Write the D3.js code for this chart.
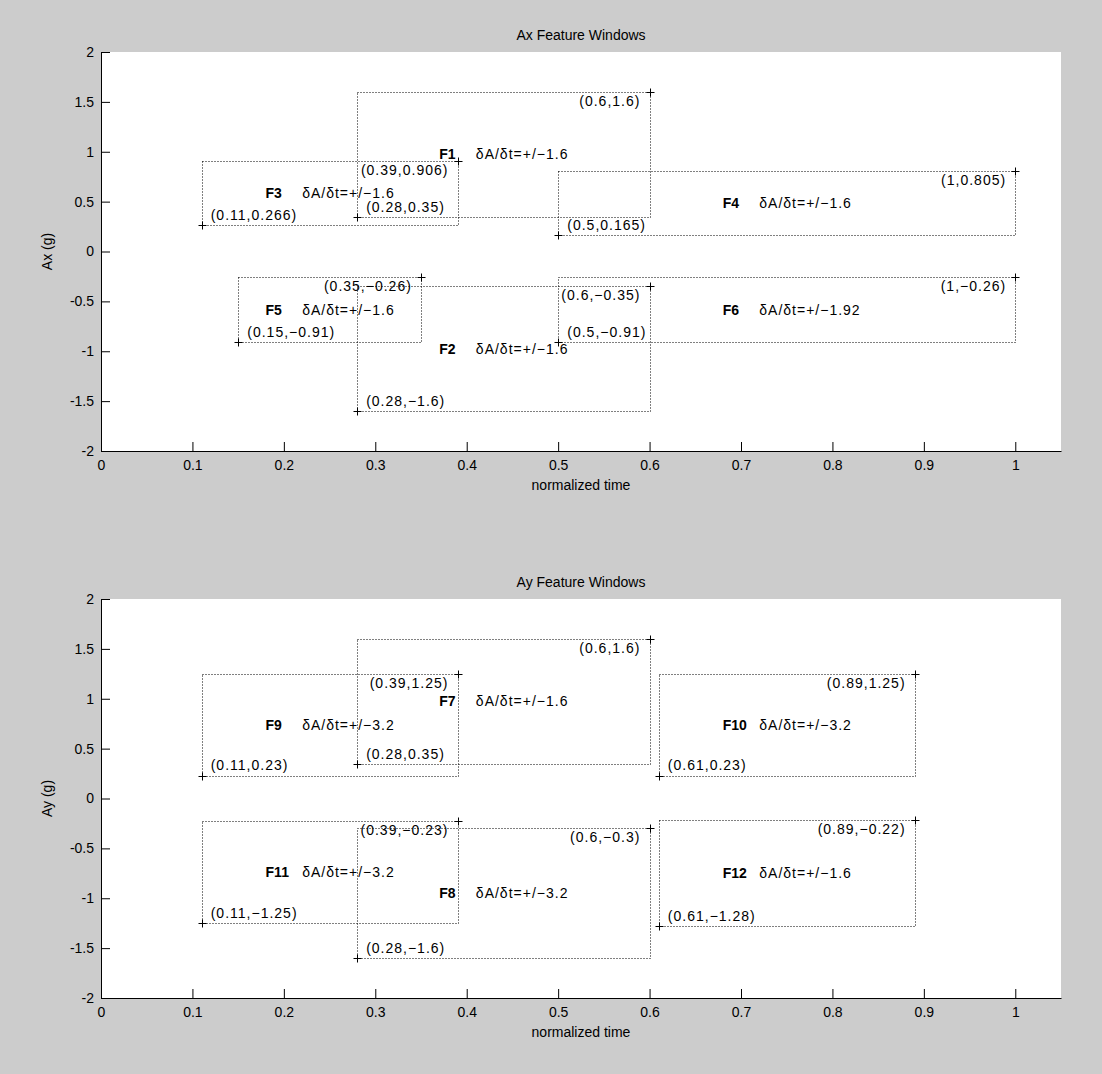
<!DOCTYPE html>
<html>
<head>
<style>
  body { margin: 0; background: #cccccc; }
  svg { display: block; }
  text { font-family: "Liberation Sans", Arial, sans-serif; font-size: 14px; fill: #000; }
  .note { letter-spacing: 1px; }
  .fname { font-weight: bold; }
  .win { fill: none; stroke: #000; stroke-width: 1; stroke-dasharray: 1,2; }
  .mark { stroke: #000; stroke-width: 1; fill: none; }
</style>
<script src="https://d3js.org/d3.v7.min.js"></script>
</head>
<body>
<svg width="1102" height="1074"></svg>
<script>
// axis ticks
var xTicks = [0, 0.1, 0.2, 0.3, 0.4, 0.5, 0.6, 0.7, 0.8, 0.9, 1];
var yTicks = [-2, -1.5, -1, -0.5, 0, 0.5, 1, 1.5, 2];

// Ax feature windows: lower-left corner (x0,y0), upper-right corner (x1,y1)
var axNames = ["F1", "F2", "F3", "F4", "F5", "F6"];
var axX0 = [0.28, 0.28, 0.11, 0.5, 0.15, 0.5];
var axY0 = [0.35, -1.6, 0.266, 0.165, -0.91, -0.91];
var axX1 = [0.6, 0.6, 0.39, 1, 0.35, 1];
var axY1 = [1.6, -0.35, 0.906, 0.805, -0.26, -0.26];
var axSlope = ["1.6", "1.6", "1.6", "1.6", "1.6", "1.92"];

// Ay feature windows
var ayNames = ["F7", "F8", "F9", "F10", "F11", "F12"];
var ayX0 = [0.28, 0.28, 0.11, 0.61, 0.11, 0.61];
var ayY0 = [0.35, -1.6, 0.23, 0.23, -1.25, -1.28];
var ayX1 = [0.6, 0.6, 0.39, 0.89, 0.39, 0.89];
var ayY1 = [1.6, -0.3, 1.25, 1.25, -0.23, -0.22];
var aySlope = ["1.6", "3.2", "3.2", "3.2", "3.2", "1.6"];

var svg = d3.select("svg");
var left = 101, W = 960, H = 399;

function minus(s) { return String(s).replace("-", "\u2212"); }

function panel(top, title, ylab, names, x0s, y0s, x1s, y1s, slopes) {
    var g = svg.append("g").attr("transform", "translate(" + left + "," + top + ")");
    var x = d3.scaleLinear().domain([0, 1.05]).range([0, W]);
    var y = d3.scaleLinear().domain([-2, 2]).range([H, 0]);

    g.append("rect").attr("width", W).attr("height", H).attr("fill", "#fff");

    g.append("g").attr("transform", "translate(0," + H + ")")
        .call(d3.axisBottom(x).tickValues(xTicks).tickFormat(function(d) { return String(d); })
            .tickSizeInner(-9).tickSizeOuter(0).tickPadding(9));
    g.append("g")
        .call(d3.axisLeft(y).tickValues(yTicks).tickFormat(function(d) { return String(d); })
            .tickSizeInner(-9).tickSizeOuter(0).tickPadding(7));

    g.append("text").attr("x", W / 2).attr("y", -17).attr("dy", "0.35em")
        .attr("text-anchor", "middle").text(title);
    g.append("text").attr("x", W / 2).attr("y", H + 34).attr("dy", "0.35em")
        .attr("text-anchor", "middle").text("normalized time");
    g.append("text").attr("transform", "translate(-54," + (H / 2) + ") rotate(-90)")
        .attr("dy", "0.35em").attr("text-anchor", "middle").text(ylab);

    var idx = d3.range(names.length);
    var snap = function(v) { return Math.round(v) + 0.5; };

    g.selectAll(".win").data(idx).enter().append("rect")
        .attr("class", "win")
        .attr("x", function(i) { return snap(x(x0s[i])); })
        .attr("y", function(i) { return snap(y(y1s[i])); })
        .attr("width", function(i) { return Math.round(x(x1s[i])) - Math.round(x(x0s[i])); })
        .attr("height", function(i) { return Math.round(y(y0s[i])) - Math.round(y(y1s[i])); });

    var plus = function(px, py) {
        px = snap(px); py = snap(py);
        return "M" + (px - 4) + "," + py + "h8M" + px + "," + (py - 4) + "v8";
    };
    g.selectAll(".m0").data(idx).enter().append("path").attr("class", "mark")
        .attr("d", function(i) { return plus(x(x0s[i]), y(y0s[i])); });
    g.selectAll(".m1").data(idx).enter().append("path").attr("class", "mark")
        .attr("d", function(i) { return plus(x(x1s[i]), y(y1s[i])); });

    // corner labels
    g.selectAll(".ll").data(idx).enter().append("text").attr("class", "note")
        .attr("x", function(i) { return x(x0s[i] + 0.01); })
        .attr("y", function(i) { return y(y0s[i] + 0.1); })
        .attr("dy", "0.35em")
        .text(function(i) { return "(" + x0s[i] + "," + minus(y0s[i]) + ")"; });
    g.selectAll(".ur").data(idx).enter().append("text").attr("class", "note")
        .attr("x", function(i) { return x(x1s[i] - 0.01); })
        .attr("y", function(i) { return y(y1s[i] - 0.09); })
        .attr("dy", "0.35em").attr("text-anchor", "end")
        .text(function(i) { return "(" + x1s[i] + "," + minus(y1s[i]) + ")"; });

    // window names and slopes
    var cx = function(i) { return (x0s[i] + x1s[i]) / 2; };
    var cy = function(i) { return (y0s[i] + y1s[i]) / 2; };
    g.selectAll(".fname").data(idx).enter().append("text").attr("class", "fname")
        .attr("x", function(i) { return x(cx(i) - 0.07); })
        .attr("y", function(i) { return y(cy(i)); })
        .attr("dy", "0.35em")
        .text(function(i) { return names[i]; });
    g.selectAll(".slope").data(idx).enter().append("text").attr("class", "note")
        .attr("x", function(i) { return x(cx(i) - 0.03); })
        .attr("y", function(i) { return y(cy(i)); })
        .attr("dy", "0.35em")
        .text(function(i) { return "\u03b4A/\u03b4t=+/\u2212" + slopes[i]; });
}

panel(52, "Ax Feature Windows", "Ax (g)", axNames, axX0, axY0, axX1, axY1, axSlope);
panel(599, "Ay Feature Windows", "Ay (g)", ayNames, ayX0, ayY0, ayX1, ayY1, aySlope);
</script>
</body>
</html>
